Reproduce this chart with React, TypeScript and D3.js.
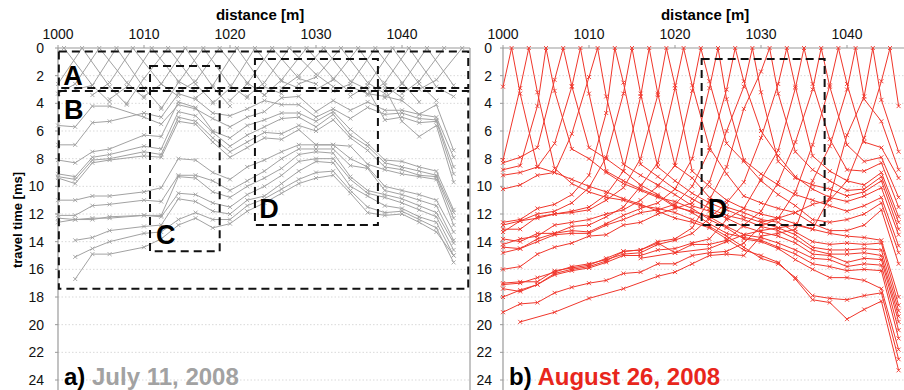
import * as d3 from 'd3'
import React, { useEffect, useRef } from 'react'

// receiver positions (m) and axis ticks
const receivers = [1000, 1002, 1004, 1006, 1008, 1010, 1012, 1014, 1016, 1018, 1020, 1022, 1024, 1026, 1028, 1030, 1032, 1034, 1036, 1038, 1040, 1042, 1044, 1046]
const xTicks = [1000, 1010, 1020, 1030, 1040]
const yTicks = [0, 2, 4, 6, 8, 10, 12, 14, 16, 18, 20, 22, 24]

// July 11, 2008 - picks at the receivers (null = no pick)
const julyLines: (number | null)[][] = [
    [5.6, 5.7, 4.2, 4.2, null, 5.0, 5.5, 4.1, 4.4, 5.1, 5.7, 5.0, 4.6, 3.6, 3.5, 4.6, 3.8, 4.5, 3.9, 4.5, 4.5, 4.8, 5.0, 7.9],
    [7.0, 7.0, 5.4, 5.3, null, 4.7, 5.0, 3.3, 3.7, 4.7, 4.9, 4.4, 3.8, 4.1, 4.1, 5.0, 4.4, 5.1, 4.3, 4.8, 4.7, 5.1, 5.2, 8.6],
    [8.1, 8.3, 7.5, 7.3, null, 6.3, 6.4, 3.9, 4.3, 6.0, 6.5, 5.6, 5.2, 4.7, 4.7, 5.3, 4.6, 5.9, 6.9, 8.1, 8.2, 8.6, 8.9, 11.7],
    [9.1, 9.3, 7.9, 7.7, null, 7.1, 7.3, 4.6, 4.9, 6.1, 7.1, 6.3, 5.7, 5.1, 5.0, 5.7, 4.8, 6.3, 7.1, 8.3, 8.6, 8.9, 9.2, 11.9],
    [9.3, 9.5, 8.1, 8.0, null, 7.5, 7.7, 5.0, 5.3, 6.5, 7.5, 6.8, 6.1, 6.2, 5.6, 6.0, 5.2, 6.5, 7.4, 8.6, 8.8, 9.2, 9.3, 12.3],
    [9.4, 9.8, 8.3, 8.1, null, 7.8, 7.9, 5.3, 5.5, 6.8, 7.9, 7.2, 6.5, 6.6, 5.9, 7.0, 7.0, 7.1, 8.4, 8.8, 9.1, 9.3, 9.5, 12.8],
    [11.0, 11.0, 10.7, 10.7, null, 10.4, 10.1, 8.0, 8.1, 9.0, 9.5, 8.6, 8.1, 7.5, 7.0, 7.0, 7.0, 8.0, 8.6, 10.0, 10.3, 10.6, 11.0, 13.3],
    [12.1, 12.1, 11.4, 11.3, null, 11.0, 11.1, 9.2, 9.2, 9.6, 10.3, 9.6, 8.9, 8.0, 7.3, 7.3, 7.3, 8.5, 8.7, 10.3, 10.6, 11.0, 11.4, 13.9],
    [12.3, 12.4, 12.3, 12.3, null, 12.1, 12.1, 9.3, 9.4, 10.4, 10.8, 10.0, 9.4, 8.7, 7.7, 7.5, 7.6, 9.3, 10.3, 10.6, 10.9, 11.4, 11.9, 14.1],
    [12.6, 12.4, 12.4, 12.2, null, 12.1, 12.2, 10.5, 10.6, 11.2, 11.5, 10.6, 10.0, 9.2, 8.2, 8.0, 8.0, 9.5, 10.5, 10.8, 11.2, 11.7, 12.2, 14.6],
    [null, 13.9, 13.7, 13.2, null, 12.9, 12.8, 10.9, 11.1, 11.8, 12.0, 11.0, 10.7, 9.8, 8.9, 8.2, 8.3, 10.0, 10.7, 11.4, 11.6, 12.2, 12.6, 15.0],
    [null, 15.1, 14.5, 14.0, null, 13.4, 13.3, 12.4, 11.9, 12.4, 12.4, 11.4, 10.9, 10.2, 9.5, 9.0, 8.9, 10.3, 11.5, 11.9, 11.8, 12.4, 13.0, 15.5],
    [null, 16.7, 14.9, 14.9, null, 14.4, 13.8, 12.8, 12.3, 13.0, 12.7, 11.8, 11.2, 10.5, 9.8, 9.4, 9.2, 10.5, 11.9, 12.1, 12.0, 12.6, 13.3, 15.0],
]
const julyTopLines: [number, number][][] = [
    [[1034, 2.8], [1036, 3.3], [1038, 3.5], [1040, 3.8], [1042, 4.8], [1044, 4.1], [1046, 7.4]],
    [[1036, 3.0], [1038, 5.2], [1040, 5.0], [1042, 5.4], [1044, 5.3], [1046, 9.1]],
    [[1038, 2.9], [1040, 5.3], [1042, 6.4], [1044, 5.6], [1046, 9.7]],
]
const julyShots = [1000.7, 1002.8, 1004.8, 1006.8, 1008.7, 1010.9, 1012.8, 1014.8, 1016.9, 1018.8, 1020.8, 1022.9, 1024.9, 1026.9, 1028.9, 1030.9, 1032.9, 1034.9, 1036.9, 1038.9, 1040.8, 1042.9, 1044.9, 1047.0]
// direct arrivals near each shot: [s-5, s-3, s+3, s+5] receivers
const julyArms: (number | null)[][] = [
    [null, null, 2.7, 3.9], [null, 2.6, 2.8, 4.1], [3.3, 2.6, 2.5, 3.6], [3.0, 2.7, 2.9, 4.3],
    [3.4, 2.5, 2.6, 3.5], [3.7, 2.8, 2.4, 3.1], [4.0, 2.2, 2.6, 3.9], [3.5, 2.6, 2.8, 4.2],
    [4.4, 2.5, 2.7, 3.6], [3.2, 2.4, 2.5, 3.4], [3.6, 2.7, 2.8, 3.3], [4.0, 2.9, 2.4, 2.9],
    [3.8, 2.6, 2.2, 2.6], [3.5, 2.5, 1.9, 2.8], [3.4, 2.3, 2.2, 3.2], [2.9, 2.0, 2.4, 3.0],
    [2.6, 2.1, 2.5, 3.3], [3.0, 2.3, 2.7, 3.6], [3.1, 2.6, 2.5, 3.9], [3.5, 2.7, 2.6, 3.8],
    [3.4, 2.5, 2.8, 3.5], [3.6, 2.6, 2.7, null], [3.3, 2.4, null, null], [3.0, 2.3, null, null],
]

// August 26, 2008 - one row per shot, picks at the receivers
const augustShots = [1001, 1003, 1005, 1007, 1009, 1011, 1013, 1015, 1017, 1019, 1021, 1023, 1025, 1027, 1029, 1031, 1033, 1035, 1037, 1039, 1041, 1043, 1045]
const augustPicks: (number | null)[][] = [
    [2.8, 3.3, 8.6, 9.0, 9.5, 10.0, 10.4, 10.9, 11.3, 11.8, 12.3, 12.6, 13.0, 13.8, 14.6, 15.0, 15.5, 16.7, 18.2, 18.4, 19.6, 18.9, 18.3, 23.3],
    [8.1, 2.9, 3.2, 8.7, 9.8, 10.4, 10.8, 11.0, 11.4, 11.6, 11.9, 12.4, 12.9, 13.6, 14.4, 15.2, 15.6, 16.6, 17.9, 18.1, 18.2, 17.9, 17.7, 22.5],
    [8.8, 8.5, 4.2, 3.1, 7.3, 8.0, 9.0, 9.8, 10.3, 10.8, 11.1, 11.6, 12.4, 13.0, 13.8, 14.0, 14.5, 15.3, 16.0, 16.6, 16.6, 16.8, 17.4, 21.8],
    [8.3, 7.9, 7.2, 2.3, 2.75, 7.2, 8.0, 8.9, 9.9, 10.6, 11.4, 11.9, 12.7, 13.4, 13.7, 13.9, 14.4, 14.9, 15.6, 15.8, 16.1, 16.0, 16.1, 21.0],
    [9.2, 9.0, 8.6, 6.9, 2.8, 3.3, 8.9, 9.6, 10.2, 10.7, 11.5, 11.8, 12.2, 12.9, 13.5, 13.7, 14.1, 14.6, 15.2, 15.3, 15.8, 15.6, 15.7, 20.4],
    [10.2, 9.9, 9.2, 9.0, 6.2, 2.1, 3.5, 8.4, 9.2, 9.9, 10.6, 11.4, 11.8, 12.3, 12.9, 13.3, 13.6, 14.1, 14.9, 15.0, 15.5, 15.2, 15.3, 19.8],
    [12.6, 12.4, 11.6, 11.3, 10.6, 9.2, 4.7, 2.5, 8.4, 9.3, 10.2, 10.9, 11.6, 12.1, 12.4, 12.9, 13.2, 13.8, 14.6, 14.9, 14.9, 14.8, 15.0, 19.4],
    [12.8, 12.5, 12.0, 11.8, 11.2, 10.1, 7.9, 3.3, 3.3, 8.6, 9.6, 10.5, 11.2, 11.7, 12.2, 12.6, 13.0, 13.5, 14.4, 14.6, 14.6, 14.5, 14.6, 19.0],
    [13.1, 13.1, 12.2, 12.0, 11.8, 11.5, 10.6, 8.9, 3.5, 3.3, 8.5, 9.4, 10.8, 11.5, 11.9, 12.4, 12.6, 13.3, 14.0, 14.2, 14.1, 14.2, 14.1, 18.6],
    [13.3, 12.5, 12.3, 12.0, 11.9, 11.7, 11.0, 10.1, 8.0, 3.4, 2.7, 8.9, 10.0, 11.0, 11.6, 12.0, 12.3, 12.7, 13.1, 13.4, 13.6, 13.7, 13.9, 18.0],
    [13.8, 14.0, 13.4, 13.4, 12.9, 12.8, 12.2, 11.5, 10.0, 8.3, 2.9, 2.7, 7.2, 9.1, 10.7, 11.2, 11.6, 11.9, 12.7, 13.2, 13.2, 12.8, 11.7, 15.6],
    [14.2, 13.8, 13.6, 12.8, 12.6, 12.4, 12.0, 11.7, 11.0, 10.0, 8.5, 3.1, 2.4, 6.9, 8.2, 9.6, 10.6, 11.4, 12.4, 12.6, 12.4, 12.0, 11.2, 14.8],
    [14.4, 14.5, 13.8, 13.4, 13.2, 13.3, 12.7, 12.1, 11.6, 11.2, 10.2, 8.0, 2.9, 3.7, 8.1, 9.1, 9.9, 10.6, 11.0, 11.4, 11.8, 11.4, 10.8, 14.3],
    [14.8, 14.5, 14.0, 13.5, 13.4, 13.4, 12.8, 12.4, 11.9, 11.7, 11.3, 10.0, 7.4, 3.0, 2.4, 6.0, 7.8, 9.3, 10.2, 10.8, 11.1, 10.7, 10.1, 13.5],
    [16.0, 15.8, 14.9, 14.4, 14.1, 13.6, 13.5, 12.8, 12.6, 12.0, 11.6, 11.2, 9.7, 6.0, 2.8, 3.2, 8.2, 9.4, 9.9, 10.2, 10.7, 10.4, 9.6, 13.1],
    [17.0, 16.9, 16.9, 16.1, 15.9, 15.7, 15.2, 14.7, 14.6, 14.0, 13.8, 13.0, 11.0, 8.6, 4.4, 1.7, 3.3, 7.5, 8.8, 9.6, 10.3, 10.2, 9.3, 12.6],
    [17.1, 17.0, 16.6, 16.2, 15.8, 15.6, 15.3, 14.9, 14.8, 14.2, 13.9, 13.4, 12.3, 11.2, 9.7, 6.5, 2.6, 2.8, 7.8, 8.9, 9.6, 9.9, 9.0, 12.2],
    [17.4, 17.6, 17.1, 16.4, 16.1, 15.9, 15.5, 15.0, 15.0, 14.6, 14.5, 14.1, 13.8, 12.4, 11.6, 9.5, 7.4, 2.9, 2.6, 6.6, 8.8, 8.9, 8.3, 11.5],
    [18.0, 17.5, 17.1, 16.3, 16.0, 15.8, 15.4, 14.7, 14.6, 14.1, 14.8, 14.2, 14.2, 13.9, 12.8, 11.8, 9.7, 6.8, 3.0, 2.8, 7.0, 8.2, 7.9, 10.8],
    [19.1, 18.5, 18.4, 17.7, 17.3, 17.0, 16.8, 16.3, 16.2, 15.6, 15.6, 15.0, 14.8, 14.7, 14.1, 12.9, 12.3, 10.4, 7.0, 2.7, 2.6, 6.8, 7.2, 9.4],
    [null, 19.8, null, 19.1, null, 18.1, null, 17.4, null, 16.5, 16.2, 15.6, 15.0, 14.9, 15.0, 13.6, 13.4, 13.1, 9.6, 7.1, 3.0, 3.7, 5.3, 8.8],
    [null, null, null, null, null, null, null, null, 15.2, null, 14.8, null, 14.5, 14.0, 13.5, 13.2, 13.0, 12.8, 13.1, 10.8, 6.3, 3.5, 3.75, 7.5],
    [null, null, null, null, null, null, null, null, null, null, null, null, null, null, null, 12.6, 12.3, 11.9, 11.3, 11.0, 9.6, 6.5, 2.4, 4.2],
]

// dashed zones: [x0, x1, t0, t1] and label anchor [x, t]
const julyZones = [
    { name: 'A', box: [1000.1, 1047.7, 0.25, 2.9], at: [1000.6, 2.7] },
    { name: 'B', box: [1000.1, 1047.7, 3.1, 17.4], at: [1000.7, 5.1] },
    { name: 'C', box: [1010.7, 1018.8, 1.3, 14.7], at: [1011.4, 14.2] },
    { name: 'D', box: [1022.9, 1037.2, 0.8, 12.8], at: [1023.4, 12.3] },
]
const augustZones = [
    { name: 'D', box: [1023.1, 1037.4, 0.8, 12.8], at: [1023.8, 12.3] },
]

const FONT = "'Liberation Sans', Arial, sans-serif"
const GRAY = '#a2a2a2'
const RED = '#f0362b'

type Pt = [number, number]

const App: React.FC = () => {
    const ref = useRef<SVGSVGElement>(null)

    useEffect(() => {
        if (!ref.current) return
        const svg = d3.select(ref.current)
        svg.selectAll('*').remove()

        const y = d3.scaleLinear().domain([0, 24]).range([48, 380])

        const panel = (opts: {
            x: d3.ScaleLinear<number, number>
            right: number
            labelX: number
            lines: Pt[][]
            color: string
            zones: typeof julyZones
            tag: string
            date: string
            showYTitle: boolean
        }) => {
            const { x, right, color } = opts
            const left = x(1000)
            const g = svg.append('g')

            // dotted grid
            g.append('g')
                .selectAll('line')
                .data(yTicks.filter(d => d > 0))
                .enter()
                .append('line')
                .attr('x1', left).attr('x2', right)
                .attr('y1', d => y(d)).attr('y2', d => y(d))
                .attr('stroke', '#d9d9d9')
                .attr('stroke-dasharray', '1.5,2')

            // axes lines
            g.append('line').attr('x1', left).attr('x2', right).attr('y1', y(0)).attr('y2', y(0))
                .attr('stroke', '#9a9a9a').attr('stroke-width', 1.2)
            g.append('line').attr('x1', left).attr('x2', left).attr('y1', y(0)).attr('y2', 390)
                .attr('stroke', '#9a9a9a').attr('stroke-width', 1.2)

            g.append('g').selectAll('line').data(xTicks).enter().append('line')
                .attr('x1', d => x(d)).attr('x2', d => x(d)).attr('y1', y(0) - 3).attr('y2', y(0))
                .attr('stroke', '#9a9a9a')
            g.append('g').selectAll('line').data(yTicks).enter().append('line')
                .attr('x1', left - 3).attr('x2', left).attr('y1', d => y(d)).attr('y2', d => y(d))
                .attr('stroke', '#9a9a9a')

            g.append('g')
                .attr('font-family', FONT).attr('font-size', 14).attr('text-anchor', 'middle').attr('fill', '#111')
                .selectAll('text').data(xTicks).enter().append('text')
                .attr('x', d => x(d)).attr('y', 39).text(d => d)
            g.append('g')
                .attr('font-family', FONT).attr('font-size', 14).attr('text-anchor', 'end').attr('fill', '#111')
                .selectAll('text').data(yTicks).enter().append('text')
                .attr('x', opts.labelX).attr('y', d => y(d) + 5).text(d => d)

            g.append('text')
                .attr('x', x(1023.5)).attr('y', 20)
                .attr('text-anchor', 'middle').attr('font-family', FONT).attr('font-size', 15).attr('font-weight', 'bold')
                .text('distance [m]')

            if (opts.showYTitle) {
                g.append('text')
                    .attr('transform', `translate(22, 220) rotate(-90)`)
                    .attr('text-anchor', 'middle').attr('font-family', FONT).attr('font-size', 13).attr('font-weight', 'bold')
                    .text('travel time [ms]')
            }

            // picks
            const line = d3.line<Pt>().x(d => x(d[0])).y(d => y(d[1]))
            const lg = g.append('g')
            lg.selectAll('path.pick')
                .data(opts.lines)
                .enter()
                .append('path')
                .attr('class', 'pick')
                .attr('fill', 'none')
                .attr('stroke', color)
                .attr('stroke-width', 1)
                .attr('d', line)
            const marks = opts.lines.flat()
            lg.selectAll('path.mark')
                .data(marks)
                .enter()
                .append('path')
                .attr('class', 'mark')
                .attr('transform', d => `translate(${x(d[0])},${y(d[1])})`)
                .attr('d', 'M-2,-2L2,2M-2,2L2,-2')
                .attr('stroke', color)
                .attr('stroke-width', 0.9)

            // dashed zones
            const zg = g.append('g')
            opts.zones.forEach(z => {
                const [a, b, t0, t1] = z.box
                zg.append('rect')
                    .attr('x', x(a)).attr('y', y(t0))
                    .attr('width', x(b) - x(a)).attr('height', y(t1) - y(t0))
                    .attr('fill', 'none').attr('stroke', '#111').attr('stroke-width', 2)
                    .attr('stroke-dasharray', '8,5')
                zg.append('text')
                    .attr('x', x(z.at[0])).attr('y', y(z.at[1]))
                    .attr('font-family', FONT).attr('font-size', 27).attr('font-weight', 'bold').attr('fill', '#000')
                    .text(z.name)
            })

            const cap = g.append('text')
                .attr('x', left + 6).attr('y', 385)
                .attr('font-family', FONT).attr('font-size', 24).attr('font-weight', 'bold')
            cap.append('tspan').attr('fill', '#000').text(opts.tag + ' ')
            cap.append('tspan').attr('fill', opts.date === 'July 11, 2008' ? GRAY : '#e8261c').text(opts.date)
        }

        const xl = d3.scaleLinear().domain([1000, 1040]).range([58, 402])
        const xr = d3.scaleLinear().domain([1000, 1040]).range([503, 847])

        // July polylines
        const jLines: Pt[][] = julyLines.map(v =>
            receivers.map((r, i) => [r, v[i]] as [number, number | null]).filter(p => p[1] != null) as Pt[])
        julyTopLines.forEach(l => jLines.push(l))
        julyShots.forEach((s, k) => {
            const base = 1000 + 2 * k
            const rx = [base - 4, base - 2, base + 4, base + 6]
            const pts: Pt[] = []
            const arms = julyArms[k]
            if (arms[0] != null) pts.push([rx[0], arms[0]])
            if (arms[1] != null) pts.push([rx[1], arms[1]])
            pts.push([s, 0])
            if (arms[2] != null) pts.push([rx[2], arms[2]])
            if (arms[3] != null) pts.push([rx[3], arms[3]])
            jLines.push(pts)
        })

        // August polylines
        const aLines: Pt[][] = augustShots.map((s, k) => {
            const pts = receivers
                .map((r, i) => [r, augustPicks[k][i]] as [number, number | null])
                .filter(p => p[1] != null) as Pt[]
            pts.push([s, 0])
            return pts.sort((a, b) => a[0] - b[0])
        })

        // left panel border
        svg.append('line').attr('x1', 470).attr('x2', 470).attr('y1', 48).attr('y2', 390)
            .attr('stroke', '#b0b0b0').attr('stroke-width', 1.5)

        panel({ x: xl, right: 470, labelX: 44, lines: jLines, color: GRAY, zones: julyZones, tag: 'a)', date: 'July 11, 2008', showYTitle: true })
        panel({ x: xr, right: 904, labelX: 492, lines: aLines, color: RED, zones: augustZones, tag: 'b)', date: 'August 26, 2008', showYTitle: false })
    }, [])

    return <svg ref={ref} width={904} height={390} style={{ position: 'absolute', left: 0, top: 0, background: '#fff' }} />
}

export default App
